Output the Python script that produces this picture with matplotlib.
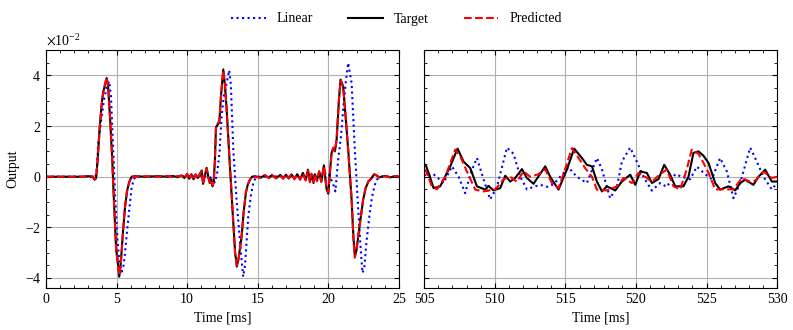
import numpy as np
import matplotlib
matplotlib.use('Agg')
import matplotlib.pyplot as plt
from matplotlib.ticker import MultipleLocator, ScalarFormatter

plt.rcParams['font.family'] = 'serif'
plt.rcParams['font.serif'] = ['Liberation Serif', 'DejaVu Serif']
plt.rcParams['mathtext.fontset'] = 'stix'
plt.rcParams['font.size'] = 10
plt.rcParams['xtick.direction'] = 'in'
plt.rcParams['ytick.direction'] = 'in'
plt.rcParams['xtick.top'] = True
plt.rcParams['ytick.right'] = True
plt.rcParams['xtick.minor.visible'] = True
plt.rcParams['ytick.minor.visible'] = True

# values in units of 1e-2
# left window, 0-25 ms
t_left = [0, 2.5, 3.0, 3.3, 3.45, 3.55, 3.65, 3.8, 3.95, 4.05, 4.15, 4.3, 4.4, 4.55, 4.7, 4.8,
          4.9, 4.97, 5.05, 5.19, 5.3, 5.45, 5.6, 5.75, 5.9, 6.07, 6.3, 7.0, 8.0, 8.6, 9.0, 9.3,
          9.6, 9.8, 10.0, 10.15, 10.3, 10.45, 10.6, 10.75, 10.9, 11.03, 11.13, 11.25, 11.38, 11.5,
          11.6, 11.7, 11.8, 11.88, 11.97, 12.04, 12.15, 12.28, 12.4, 12.56, 12.68, 12.8, 13.03,
          13.27, 13.4, 13.52, 13.65, 13.86, 14.0, 14.16, 14.3, 14.45, 14.6, 14.8, 15.2, 15.5,
          15.8, 16.0, 16.3, 16.6, 16.8, 17.0, 17.2, 17.4, 17.6, 17.8, 18.0, 18.2, 18.4, 18.56,
          18.7, 18.8, 18.95, 19.05, 19.2, 19.35, 19.5, 19.69, 19.88, 20.0, 20.12, 20.23, 20.35,
          20.47, 20.59, 20.75, 20.87, 21.05, 21.25, 21.41, 21.65, 21.78, 21.88, 22.0, 22.12, 22.3,
          22.47, 22.65, 22.83, 23.07, 23.25, 23.42, 23.6, 24.0, 24.4, 24.8, 25.0]
target_left = [0, 0, 0.02, 0.0, -0.12, -0.05, 0.6, 1.9, 2.9, 3.35, 3.55, 3.9, 3.6, 2.2, 0.6, -0.8,
               -2.0, -2.9, -3.2, -3.95, -3.4, -2.2, -1.2, -0.55, -0.2, 0.0, 0.02, 0.0, 0.02, 0.0, 0.03, -0.02,
               0.05, -0.05, 0.1, -0.08, 0.1, -0.1, 0.08, -0.05, 0.1, 0.25, -0.28, 0.05, 0.35, 0.0,
               -0.25, -0.1, -0.38, -0.2, 0.7, 1.95, 2.05, 2.15, 3.2, 4.24, 3.6, 2.65, 0.4,
               -1.83, -3.0, -3.55, -3.2, -2.36, -1.4, -0.65, -0.3, -0.12, 0.0, 0.02, -0.03, 0.05,
               -0.04, 0.06, -0.05, 0.07, -0.06, 0.08, -0.07, 0.09, -0.08, 0.1, -0.1, 0.15, -0.12, 0.28,
               -0.2, 0.1, -0.25, 0.1, -0.15, 0.2, -0.2, 0.45, -0.5, -0.67, 0.2, 0.94, 1.13,
               1.0, 1.47, 3.0, 3.84, 3.58, 2.2, 1.07, -0.9, -2.4, -3.15, -2.9, -2.36, -1.6,
               -0.9, -0.45, -0.19, -0.05, 0.1, 0.05, -0.02, 0.03, -0.02, 0.02, 0.0]
pred_left = [0, 0, 0.01, 0.02, -0.1, -0.06, 0.55, 1.95, 2.9, 3.3, 3.6, 3.92, 3.55, 2.25, 0.55, -0.75,
             -2.05, -2.85, -3.25, -3.9, -3.45, -2.25, -1.15, -0.5, -0.22, 0.02, 0.0, 0.02, 0.0, 0.03, 0.0, 0.02,
             0.04, -0.07, 0.12, -0.1, 0.08, -0.12, 0.1, -0.08, 0.12, 0.22, -0.3, 0.08, 0.32, -0.05,
             -0.22, -0.12, -0.35, -0.22, 0.65, 1.9, 2.1, 2.2, 3.25, 4.2, 3.65, 2.6, 0.45,
             -1.8, -3.05, -3.5, -3.25, -2.3, -1.45, -0.6, -0.32, -0.1, 0.02, 0.0, -0.05, 0.07,
             -0.06, 0.08, -0.07, 0.05, -0.08, 0.1, -0.05, 0.12, -0.1, 0.08, -0.12, 0.12, -0.15, 0.25,
             -0.22, 0.12, -0.22, 0.08, -0.18, 0.22, -0.18, 0.42, -0.48, -0.62, 0.25, 0.9, 1.15,
             1.02, 1.5, 3.05, 3.8, 3.55, 2.25, 1.02, -0.85, -2.45, -3.2, -2.85, -2.3, -1.62,
             -0.88, -0.42, -0.2, -0.08, 0.08, 0.06, -0.04, 0.02, -0.03, 0.03, 0.0]

t_lin_left = [0, 3.5, 3.6, 3.71, 3.9, 4.1, 4.3, 4.48, 4.6, 4.75, 4.9, 5.05, 5.2, 5.36, 5.5, 5.6,
              5.75, 5.9, 6.05, 6.2, 6.35, 9.0, 10.0, 11.0, 11.6, 11.97, 12.13, 12.3, 12.44, 12.6,
              12.8, 12.98, 13.1, 13.27, 13.5, 13.79, 13.97, 14.1, 14.33, 14.5, 14.68, 14.85, 15.04,
              17.0, 19.0, 19.7, 20.0, 20.2, 20.4, 20.5, 20.7, 20.9, 21.05, 21.25, 21.41, 21.65,
              21.88, 22.12, 22.3, 22.42, 22.55, 22.7, 22.9, 23.07, 23.25, 23.42, 23.77, 25.0]
linear_left = [0, 0, 0.3, 1.35, 2.2, 3.0, 3.55, 3.77, 3.2, 1.2, -0.8, -2.4, -3.4, -3.75, -3.5, -3.0,
               -2.1, -1.3, -0.5, -0.12, 0.0, 0.0, 0.02, 0.03, 0.0, -0.22, 0.16, 1.0, 2.4, 3.2,
               3.7, 4.21, 3.6, 1.07, -0.9, -2.9, -3.95, -3.5, -1.57, -0.8, -0.25, -0.05, 0.0,
               0.02, 0.05, 0.12, 0.15, -0.1, -0.38, -0.58, 0.67, 1.6, 2.65, 3.8, 4.5, 3.7,
               1.07, -1.3, -2.9, -3.8, -3.6, -2.6, -1.6, -0.9, -0.4, -0.12, 0.0, 0.0]

# right window, 505-530 ms
t_right = [505.0, 505.14, 505.4, 505.66, 506.13, 506.84, 507.36, 507.78, 508.26, 508.73, 509.32,
           509.55, 509.9, 510.38, 510.74, 511.09, 511.44, 511.92, 512.27, 512.74, 513.57, 513.92,
           514.51, 515.1, 515.62, 516.17, 516.52, 516.88, 517.23, 517.59, 517.94, 518.53, 519.0,
           519.59, 519.95, 520.3, 520.77, 521.13, 521.6, 522.0, 522.42, 522.78, 523.36, 523.72,
           524.07, 524.43, 524.78, 525.14, 525.61, 525.96, 526.55, 527.03, 527.38, 527.73,
           528.32, 528.68, 529.15, 529.62, 530.0]
target_right = [0.5, 0.41, 0.0, -0.45, -0.38, 0.41, 1.11, 0.6, 0.34, -0.38, -0.51,
                -0.36, -0.54, -0.45, 0.04, -0.19, -0.05, 0.3, -0.05, -0.28, 0.41, 0.0,
                -0.51, 0.28, 1.11, 0.74, 0.47, 0.41, -0.19, -0.58, -0.38, -0.54, -0.19,
                0.08, -0.32, 0.21, 0.15, -0.25, -0.09, 0.47, 0.08, -0.38, -0.38, 0.0,
                0.94, 1.0, 0.83, 0.54, -0.25, -0.51, -0.38, -0.54, -0.25, -0.12,
                -0.32, 0.0, 0.28, -0.19, -0.19]

t_pred_right = [505.0, 505.14, 505.54, 505.9, 506.49, 507.19, 507.55, 508.02, 508.61, 509.2, 510.03,
                510.62, 511.09, 511.56, 512.03, 512.5, 513.1, 513.57, 514.04, 514.51, 514.98,
                515.46, 515.93, 516.4, 516.88, 517.23, 517.94, 518.65, 519.12, 519.71, 520.18,
                520.65, 521.12, 521.71, 522.18, 522.66, 523.13, 523.6, 523.95, 524.43, 524.78,
                525.14, 525.61, 526.2, 526.91, 527.5, 528.09, 528.45, 529.03, 529.62, 530.0]
pred_right = [0.3, 0.2, -0.38, -0.5, 0.0, 1.07, 0.8, 0.21, -0.51, -0.58, -0.5,
              -0.1, 0.0, -0.2, 0.21, 0.0, 0.1, 0.3, -0.25, -0.45, 0.3,
              1.13, 0.74, 0.34, 0.0, -0.51, -0.54, -0.38, -0.05, -0.25, 0.15,
              0.0, -0.2, 0.1, 0.28, -0.38, -0.5, 0.3, 1.07, 0.9, 0.55,
              0.15, -0.5, -0.5, -0.5, -0.05, -0.2, -0.15, 0.2, -0.05, 0.0]

t_lin_right = [505.0, 505.14, 505.66, 506.37, 506.96, 507.43, 507.9, 508.26, 508.73, 509.2, 509.67,
               510.15, 510.38, 510.86, 511.33, 511.8, 512.27, 512.74, 513.22, 513.69, 514.16,
               514.63, 515.22, 515.81, 516.52, 517.23, 517.58, 518.17, 518.65, 519.0, 519.59,
               520.06, 520.53, 521.12, 521.71, 522.18, 522.78, 523.25, 523.84, 524.31, 524.9,
               525.37, 525.96, 526.44, 526.91, 527.38, 528.09, 528.56, 529.03, 529.62, 530.0]
linear_right = [0.1, 0.0, 0.1, -0.25, 0.41, 0.0, -0.65, 0.1, 0.74, -0.1, -0.9,
                -0.4, 0.1, 1.15, 0.9, 0.0, -0.5, -0.4, -0.32, -0.4, -0.3,
                0.0, 0.36, 0.0, -0.25, 0.74, 0.3, -0.85, -0.4, 0.6, 1.15,
                0.6, 0.0, -0.55, -0.25, -0.4, 0.1, 0.0, -0.1, 0.4, 0.1,
                -0.1, 0.74, 0.2, -0.85, -0.25, 1.15, 0.6, 0.0, -0.5, -0.25]

scale = 1e-2

fig = plt.figure(figsize=(7.93, 3.3), dpi=100)
ax1 = fig.add_axes([0.058, 0.127, 0.445, 0.721])
ax2 = fig.add_axes([0.535, 0.127, 0.445, 0.721], sharey=ax1)

for ax in (ax1, ax2):
    ax.grid(True, color='#b0b0b0', linewidth=0.8)
    ax.set_axisbelow(True)
    ax.xaxis.set_major_locator(MultipleLocator(5))
    ax.xaxis.set_minor_locator(MultipleLocator(1))
    ax.yaxis.set_major_locator(MultipleLocator(2 * scale))
    ax.yaxis.set_minor_locator(MultipleLocator(0.5 * scale))
    ax.set_xlabel('Time [ms]')

ax1.plot(t_lin_left, np.array(linear_left) * scale, color='#0000ff', linestyle=':', lw=1.5, label='Linear')
ax1.plot(t_left, np.array(target_left) * scale, color='black', linestyle='-', lw=1.5, label='Target')
ax1.plot(t_left, np.array(pred_left) * scale, color='red', linestyle='--', lw=1.5, label='Predicted')

ax2.plot(t_lin_right, np.array(linear_right) * scale, color='#0000ff', linestyle=':', lw=1.5)
ax2.plot(t_right, np.array(target_right) * scale, color='black', linestyle='-', lw=1.5)
ax2.plot(t_pred_right, np.array(pred_right) * scale, color='red', linestyle='--', lw=1.5)

ax1.set_xlim(0, 25)
ax2.set_xlim(505, 530)
ax1.set_ylim(-4.4 * scale, 5.0 * scale)
ax1.set_ylabel('Output')

fmt = ScalarFormatter(useMathText=True)
fmt.set_powerlimits((-1, 1))
ax1.yaxis.set_major_formatter(fmt)
ax2.tick_params(axis='y', labelleft=False)

fig.legend(loc='upper center', bbox_to_anchor=(0.5, 1.0), ncol=3, frameon=False,
           handlelength=2.5, columnspacing=2.5)

fig.savefig('out.png', dpi=100)
